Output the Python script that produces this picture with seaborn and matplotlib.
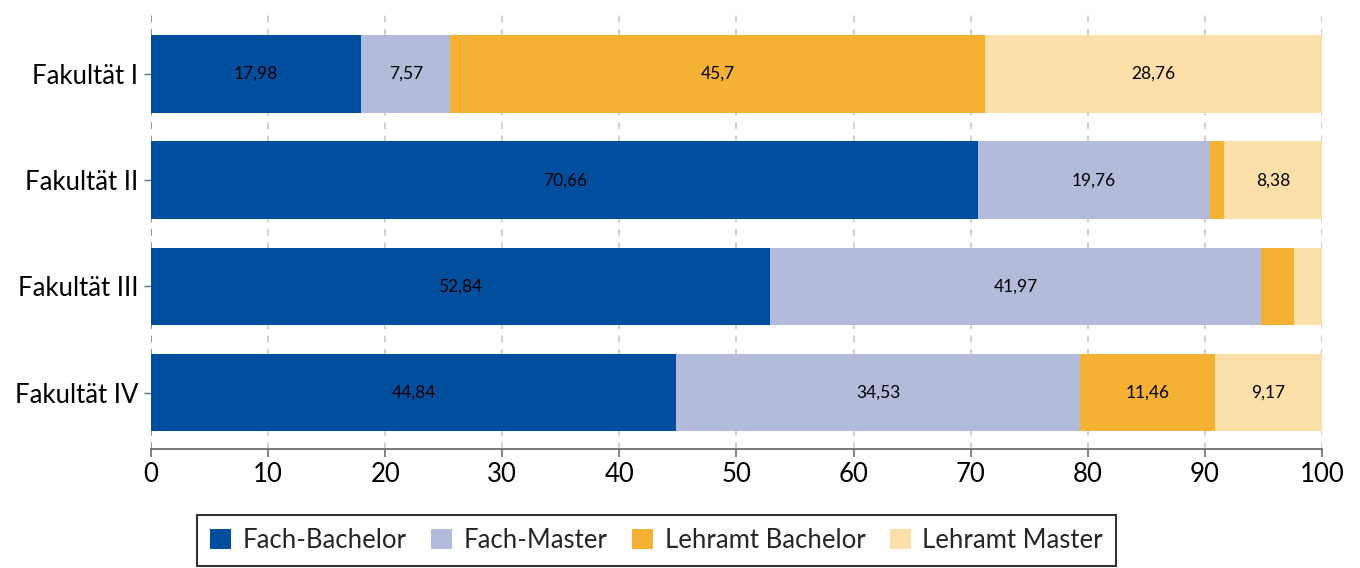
import matplotlib
matplotlib.use("Agg")
import matplotlib.pyplot as plt
import seaborn as sns
import pandas as pd
import numpy as np
from matplotlib.patches import Patch

faculties = ["Fakultät I", "Fakultät II", "Fakultät III", "Fakultät IV"]
series = ["Fach-Bachelor", "Fach-Master", "Lehramt Bachelor", "Lehramt Master"]
fach_bachelor = [17.98, 70.66, 52.84, 44.84]
fach_master = [7.57, 19.76, 41.97, 34.53]
lehramt_bachelor = [45.7, 1.2, 2.8, 11.46]
lehramt_master = [28.76, 8.38, 2.39, 9.17]
# which segments carry a value label
show_label = [
    [True, True, True, True],
    [True, True, False, True],
    [True, True, False, False],
    [True, True, True, True],
]
colors = ["#004f9f", "#b3bbdb", "#f5b133", "#fddfa9"]

values = np.array([fach_bachelor, fach_master, lehramt_bachelor, lehramt_master])
cum = np.cumsum(values, axis=0)

sns.set_theme(style="white")
plt.rcParams["font.family"] = ["Lato", "DejaVu Sans"]

fig = plt.figure(figsize=(13.6, 5.68), dpi=100)
ax = fig.add_axes([0.111, 0.2095, 0.861, 0.766])

# stacked bars: draw cumulative totals from the outermost layer inward
for i in range(len(series) - 1, -1, -1):
    df = pd.DataFrame({"Fakultät": faculties, "Wert": cum[i]})
    sns.barplot(data=df, x="Wert", y="Fakultät", order=faculties, color=colors[i],
                saturation=1, width=0.73, ax=ax, orient="h", zorder=2,
                linewidth=0, edgecolor="none")

for i in range(len(series)):
    for j in range(len(faculties)):
        if show_label[j][i]:
            center = cum[i][j] - values[i][j] / 2
            ax.text(center, j, f"{values[i][j]:g}".replace(".", ","), ha="center",
                    va="center", fontsize=12.5, color="black", zorder=3)

ax.set_xlim(0, 100)
ax.set_ylim(3.53, -0.565)
ax.set_xticks(range(0, 101, 10))
ax.set_xlabel("")
ax.set_ylabel("")
ax.xaxis.grid(True, linestyle=(0, (4, 4)), color="#c8c8c8", linewidth=1.2, zorder=0)
ax.yaxis.grid(False)
for s in ["top", "right", "left"]:
    ax.spines[s].set_visible(False)
ax.spines["bottom"].set_color("#6e6e6e")
ax.spines["bottom"].set_linewidth(1.3)
ax.axvline(0, color="#8a8a8a", linestyle=(0, (4, 4)), linewidth=1.2, zorder=1)
ax.tick_params(axis="x", bottom=True, length=6, width=1.2, color="#6e6e6e",
               labelsize=18.5, pad=3, labelcolor="black")
ax.tick_params(axis="y", left=True, length=5, width=1.0, color="#6e6e6e",
               labelsize=18.5, pad=4, labelcolor="black")

handles = [Patch(facecolor=c, edgecolor="none") for c in colors]
leg = fig.legend(handles, series, loc="upper left", bbox_to_anchor=(0.145, 0.093),
                 bbox_transform=fig.transFigure, ncol=4, fontsize=18.5, frameon=True,
                 fancybox=False, edgecolor="black", handlelength=0.82, handleheight=0.82,
                 handletextpad=0.45, columnspacing=0.95, borderpad=0.5, borderaxespad=0)
leg.get_frame().set_linewidth(1.5)

fig.savefig("out.png", dpi=100)
